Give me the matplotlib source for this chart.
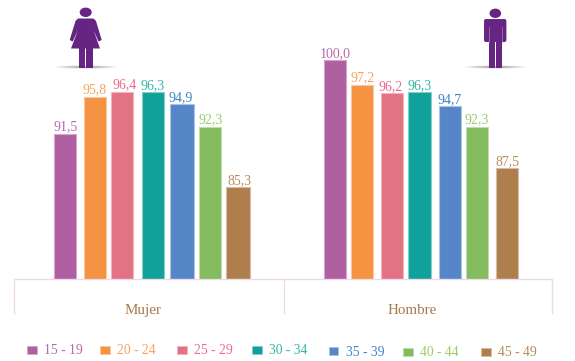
import matplotlib
matplotlib.use('Agg')
import matplotlib.pyplot as plt
from matplotlib.patches import Ellipse, FancyBboxPatch, Polygon, Rectangle

plt.rcParams['font.family'] = ['Liberation Serif', 'DejaVu Serif']

age_groups = ['15 - 19', '20 - 24', '25 - 29', '30 - 34', '35 - 39', '40 - 44', '45 - 49']
mujer = [91.5, 95.8, 96.4, 96.3, 94.9, 92.3, 85.3]
hombre = [100.0, 97.2, 96.2, 96.3, 94.7, 92.3, 87.5]

bar_colors = ['#b05fa0', '#f59342', '#e27382', '#10a19a', '#5686c8', '#84bb5e', '#ae7f4c']
edge_colors = ['#d3a6cc', '#fac79e', '#f0b5bc', '#85d0cb', '#abc4e6', '#c0dcab', '#d5bda2']
label_colors = ['#b968ad', '#f9a35c', '#ee6a8e', '#35b5a9', '#3f83c6', '#9ccb6e', '#b98b5b']
purple = '#662483'
line_col = '#edd8ec'
group_col = '#a6794a'

# layout in pixels of the 575x361 picture
mujer_x = [65, 95, 122, 153, 181.5, 210, 238]
hombre_x = [334.5, 362, 392, 419.5, 450, 477, 507]
widths = [22, 22, 22, 22.5, 24, 22, 24]
mujer_dx = [0.5, -0.5, 3, 0, -0.5, 0.5, 1]
hombre_dx = [1, 0.5, -1, 0.5, 0, 0, 0]
legend_x = [27, 100, 177, 252, 328.5, 403, 481]
legend_y = [349.5, 349.5, 349.5, 349.5, 351, 352, 352]

base = 74.7
px_per_unit = 8.64

fig = plt.figure(figsize=(5.75, 3.61), dpi=100, facecolor='white')

# bars, value axis sits on the pixel baseline y=279
ax = fig.add_axes([0, (361 - 279) / 361, 1, 259 / 361])
ax.set_xlim(0, 575)
ax.set_ylim(base, base + 259 / px_per_unit)
ax.axis('off')
ax.bar(mujer_x, mujer, width=widths, color=bar_colors, edgecolor=edge_colors, linewidth=0.8)
ax.bar(hombre_x, hombre, width=[22, 22, 22, 23, 22, 22, 22], color=bar_colors,
       edgecolor=edge_colors, linewidth=0.8)

for xs, vals, dxs in [(mujer_x, mujer, mujer_dx), (hombre_x, hombre, hombre_dx)]:
    for i in range(len(vals)):
        txt = f'{vals[i]:.1f}'.replace('.', ',')
        ax.annotate(txt, (xs[i] + dxs[i], vals[i]), xytext=(0, 6.8 * 0.72), textcoords='offset points',
                    ha='center', va='center', fontsize=10, color=label_colors[i])

# everything else in pixel coordinates
ov = fig.add_axes([0, 0, 1, 1], facecolor='none')
ov.set_xlim(0, 575)
ov.set_ylim(361, 0)
ov.axis('off')

# bracket under the bars
ov.plot([14, 14, 552, 552], [313, 279, 279, 313], color=line_col, lw=1)
ov.plot([284, 284], [279, 313], color=line_col, lw=1)
ov.text(142.7, 310.5, 'Mujer', ha='center', va='center', fontsize=10.8, color=group_col)
ov.text(412, 310.5, 'Hombre', ha='center', va='center', fontsize=10.8, color=group_col)

# legend
for i, lab in enumerate(age_groups):
    ov.add_patch(Rectangle((legend_x[i], legend_y[i] - 4), 9.5, 8, fc=bar_colors[i],
                           ec=edge_colors[i], lw=0.6))
    ov.text(legend_x[i] + 17, legend_y[i] + 1, lab, ha='left', va='center', fontsize=9.8,
            color=label_colors[i])


def shadow(cx, cy, w):
    # soft floor shadow under a figure
    for k in range(8):
        f = 1 - k / 8
        ov.add_patch(Ellipse((cx, cy), w * f, 3.2 * f, fc='#555555', ec='none', alpha=0.09))


# woman
shadow(86, 67, 62)
ov.add_patch(Ellipse((85.7, 12.3), 12, 9.4, fc=purple, ec='none'))
dress = [(78, 18.5), (93.5, 18.5), (96, 21), (101.7, 40), (98.5, 41.5), (93.5, 30), (100, 48.5),
         (71, 48.5), (78, 30), (72.7, 41.5), (69.7, 40), (75.5, 21)]
ov.add_patch(Polygon(dress, closed=True, fc=purple, ec='none'))
ov.add_patch(Rectangle((78.7, 47), 6.5, 20.5, fc=purple, ec='none'))
ov.add_patch(Rectangle((85.8, 47), 6.9, 20.5, fc=purple, ec='none'))

# man
shadow(495.5, 67, 62)
ov.add_patch(Ellipse((495.3, 13.3), 11.6, 9.4, fc=purple, ec='none'))
ov.add_patch(FancyBboxPatch((485, 20), 20.4, 21, boxstyle='round,pad=0,rounding_size=1',
                            mutation_aspect=1, fc=purple, ec=purple, lw=1.4))
ov.add_patch(Rectangle((488.8, 40), 6.2, 27.5, fc=purple, ec='none'))
ov.add_patch(Rectangle((495.6, 40), 6.4, 27.5, fc=purple, ec='none'))
ov.plot([488.6, 488.6], [27, 41.5], color='#a585b8', lw=0.5)
ov.plot([502.2, 502.2], [27, 41.5], color='#a585b8', lw=0.5)

fig.savefig('out.png', dpi=100)
